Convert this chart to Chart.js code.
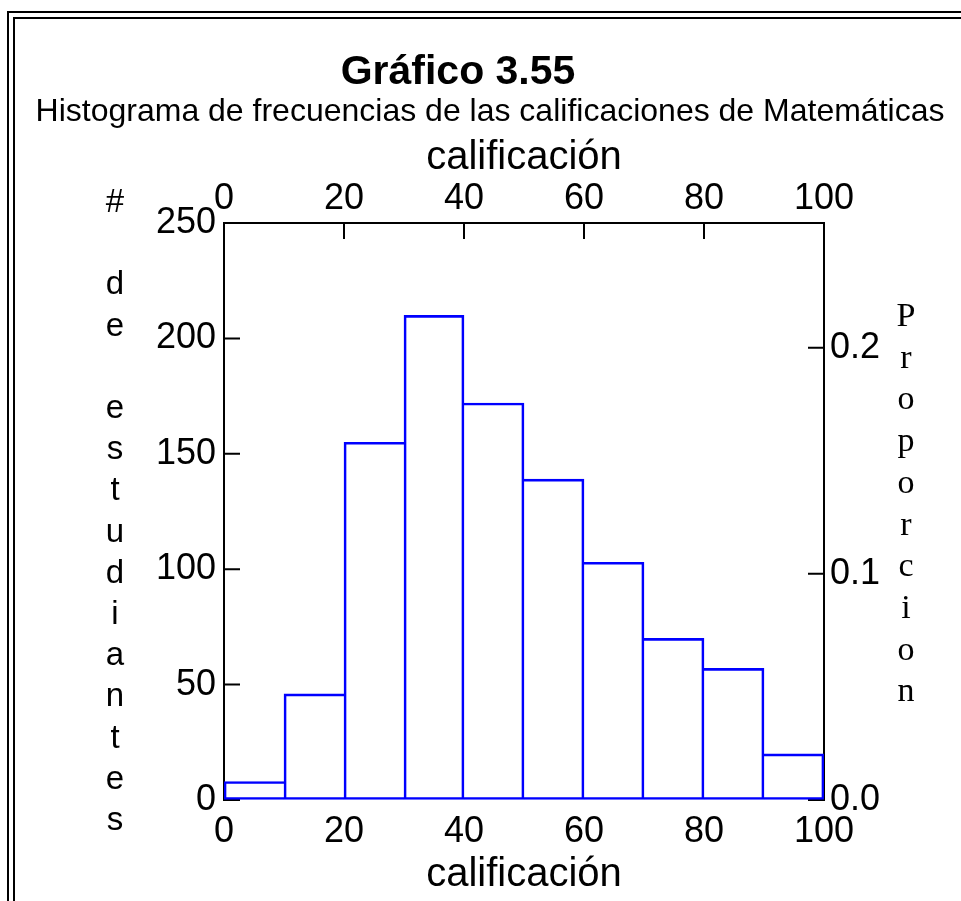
<!DOCTYPE html>
<html><head><meta charset="utf-8">
<script src="https://cdn.jsdelivr.net/npm/chart.js@4.4.1/dist/chart.umd.min.js"></script>
<style>html,body{margin:0;padding:0;background:#fff;overflow:hidden}</style>
</head><body>
<canvas id="c" width="961" height="901" style="display:block;width:961px;height:901px"></canvas>
<script>
// ---- data ----
const binStarts = [0, 10, 20, 30, 40, 50, 60, 70, 80, 90];
const binWidth = 10;
const counts = [8, 46, 155, 210, 172, 139, 103, 70, 57, 20];
const xTicks = [0, 20, 40, 60, 80, 100];
const countTicks = [0, 50, 100, 150, 200, 250];
const propTicks = [0, 0.1, 0.2];
const titleText = 'Gráfico 3.55';
const subtitleText = 'Histograma de frecuencias de las calificaciones de Matemáticas';
const xTitle = 'calificación';
const yLeftTitle = ['#', '', 'd', 'e', '', 'e', 's', 't', 'u', 'd', 'i', 'a', 'n', 't', 'e', 's'];
const yRightTitle = ['P', 'r', 'o', 'p', 'o', 'r', 'c', 'i', 'o', 'n'];

const total = counts.reduce((a, b) => a + b, 0);
const countMax = countTicks[countTicks.length - 1];
const SANS = '"Liberation Sans", Arial, sans-serif';
const SERIF = '"Liberation Serif", "Times New Roman", serif';

const setTicks = arr => s => { s.ticks = arr.map(v => ({ value: v })); };

const decor = {
  id: 'decor',
  beforeDraw(chart) {
    const ctx = chart.ctx;
    ctx.save();
    ctx.fillStyle = '#fff';
    ctx.fillRect(0, 0, chart.width, chart.height);
    ctx.strokeStyle = '#000';
    ctx.lineWidth = 2;
    ctx.strokeRect(8, 12, 2000, 2000);
    ctx.strokeRect(14, 18, 2000, 2000);
    ctx.restore();
  },
  beforeDatasetsDraw(chart) {
    const ctx = chart.ctx;
    const { y, x2, y2 } = chart.scales;
    const L = 16;
    ctx.save();
    ctx.strokeStyle = '#000';
    ctx.lineWidth = 2;
    ctx.beginPath();
    y.ticks.forEach(t => { const p = y.getPixelForValue(t.value); ctx.moveTo(y.right, p); ctx.lineTo(y.right + L, p); });
    x2.ticks.forEach(t => { const p = x2.getPixelForValue(t.value); ctx.moveTo(p, x2.bottom); ctx.lineTo(p, x2.bottom + L); });
    y2.ticks.forEach(t => { const p = y2.getPixelForValue(t.value); ctx.moveTo(y2.left, p); ctx.lineTo(y2.left - L, p); });
    ctx.stroke();
    ctx.restore();
  },
  afterDraw(chart) {
    const ctx = chart.ctx;
    const area = chart.chartArea;
    ctx.save();
    ctx.fillStyle = '#000';
    ctx.textBaseline = 'alphabetic';
    ctx.textAlign = 'center';
    ctx.font = 'bold 41px ' + SANS;
    ctx.fillText(titleText, 458, 84);
    ctx.font = '32px ' + SANS;
    ctx.fillText(subtitleText, 490, 121);
    // left vertical title, one letter per line
    ctx.font = '33px ' + SANS;
    yLeftTitle.forEach((ch, i) => ctx.fillText(ch, 115, area.top - 11 + i * 41.2));
    // right vertical title
    ctx.font = '34px ' + SERIF;
    yRightTitle.forEach((ch, i) => ctx.fillText(ch, 906, area.top + 103 + i * 41.7));
    ctx.restore();
  }
};

new Chart(document.getElementById('c'), {
  type: 'bar',
  data: {
    datasets: [{
      data: binStarts.map((s, i) => ({ x: s + binWidth / 2, y: counts[i] })),
      backgroundColor: 'rgba(255,255,255,0)',
      borderColor: '#0000ff',
      borderSkipped: false,
      borderWidth: (c) => {
        const i = c.dataIndex, n = counts.length;
        if (i === undefined) return 2;
        const left = (i === 0 || counts[i] >= counts[i - 1]) ? 2 : 0;
        const right = (i === n - 1 || counts[i] > counts[i + 1]) ? 2 : 0;
        return { top: 2, bottom: 2, left, right };
      },
      barPercentage: 1,
      categoryPercentage: 1,
      xAxisID: 'x',
      yAxisID: 'y'
    }]
  },
  options: {
    responsive: false,
    animation: false,
    events: [],
    layout: { padding: { top: 126, left: 0, right: 0, bottom: 0 } },
    plugins: { legend: { display: false }, title: { display: false }, tooltip: { enabled: false } },
    scales: {
      x: {
        type: 'linear', position: 'bottom', min: 0, max: 100, offset: false,
        afterBuildTicks: setTicks(xTicks),
        afterFit: s => { s.height = 101; },
        grid: { display: true, drawOnChartArea: false, drawTicks: false, offset: false },
        border: { display: false },
        ticks: { color: '#000', font: { family: SANS, size: 36, lineHeight: 1 }, padding: 14, maxRotation: 0, autoSkip: false },
        title: { display: true, text: xTitle, color: '#000', font: { family: SANS, size: 40, lineHeight: 1 }, padding: { top: 0, bottom: 6 } }
      },
      x2: {
        type: 'linear', position: 'top', min: 0, max: 100, offset: false,
        afterBuildTicks: setTicks(xTicks),
        afterFit: s => { s.height = 97; },
        grid: { display: true, drawOnChartArea: false, drawTicks: false },
        border: { display: true, color: '#000', width: 2 },
        ticks: { color: '#000', font: { family: SANS, size: 36, lineHeight: 1 }, padding: 6, maxRotation: 0, autoSkip: false },
        title: { display: true, text: xTitle, color: '#000', font: { family: SANS, size: 40, lineHeight: 1 }, padding: { top: 12, bottom: 0 } }
      },
      y: {
        type: 'linear', position: 'left', min: 0, max: countMax,
        afterBuildTicks: setTicks(countTicks),
        afterFit: s => { s.width = 224; },
        grid: { display: true, drawOnChartArea: false, drawTicks: false },
        border: { display: true, color: '#000', width: 2 },
        ticks: { color: '#000', font: { family: SANS, size: 36, lineHeight: 1 }, padding: 8 }
      },
      y2: {
        type: 'linear', position: 'right', min: 0, max: countMax / total,
        afterBuildTicks: setTicks(propTicks),
        afterFit: s => { s.width = 137; },
        grid: { display: true, drawOnChartArea: false, drawTicks: false },
        border: { display: true, color: '#000', width: 2 },
        ticks: { color: '#000', font: { family: SANS, size: 36, lineHeight: 1 }, padding: 6, callback: v => v.toFixed(1) }
      }
    }
  },
  plugins: [decor]
});
</script>
</body></html>
